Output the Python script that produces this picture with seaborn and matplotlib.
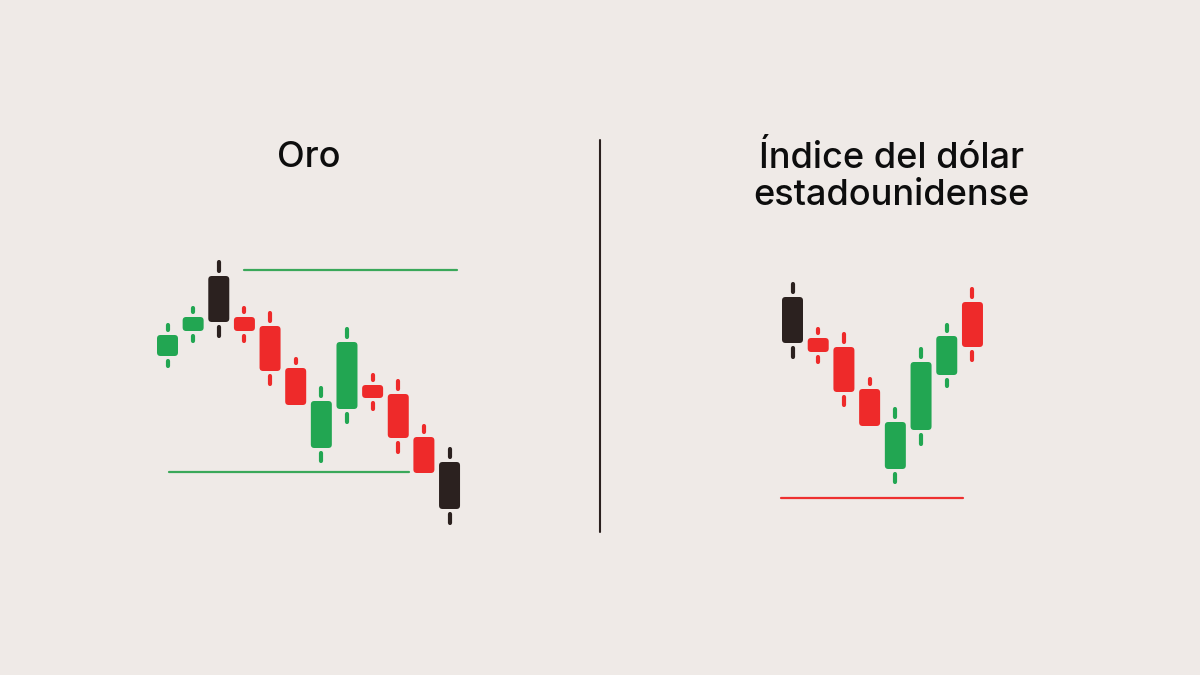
import matplotlib
matplotlib.use("Agg")
import matplotlib.pyplot as plt
from matplotlib.patches import FancyBboxPatch
from matplotlib.lines import Line2D
import seaborn as sns

# candles (arbitrary price units)
gold_open = [102, 114.5, 119, 121.5, 117, 96, 56, 75.5, 87.5, 83, 61.5, 49]
gold_close = [112.5, 121.5, 142, 114.5, 94.5, 77.5, 79.5, 109, 81, 61, 43.5, 25.5]
gold_high = [118.5, 127, 150, 127, 124.5, 101.5, 87, 116.5, 93.5, 90.5, 68, 56.5]
gold_low = [96, 108.5, 111, 108.5, 87, 77.5, 48.5, 68, 74.5, 53, 43.5, 17.5]
gold_kind = ["up", "up", "dark", "down", "down", "down", "up", "up", "down", "down", "down", "dark"]
gold_resistance = 145
gold_resistance_span = [2.98, 11.29]
gold_support = 44
gold_support_span = [0.06, 9.42]

dxy_open = [131.5, 111, 106.5, 85.5, 45.5, 65, 92.5, 129]
dxy_close = [108.5, 104, 84, 67, 69, 99, 112, 106.5]
dxy_high = [139, 116.5, 114, 91.5, 76.5, 106.5, 118.5, 136.5]
dxy_low = [100.5, 98, 76.5, 67, 38, 57, 86, 99]
dxy_kind = ["dark", "down", "down", "down", "up", "up", "up", "down"]
dxy_support = 31
dxy_support_span = [-0.45, 6.63]

titles = ["Oro", "Índice del dólar", "estadounidense"]

BG = "#efeae7"
colors = {"up": "#22a652", "down": "#ee2a2a", "dark": "#2b211f"}
W, H = 1200, 675

sns.set_theme(style="white", rc={"figure.facecolor": BG, "axes.facecolor": BG})
plt.rcParams["font.family"] = ["Inter", "DejaVu Sans"]

fig = plt.figure(figsize=(12, 6.75), dpi=100)

PX_Y = 2.0  # pixels per price unit


def panel(x0, step, xlim):
    left = x0 + xlim[0] * step
    width = (xlim[1] - xlim[0]) * step
    ax = fig.add_axes([left / W, (H - 560) / H, width / W, 320 / H])
    ax.set_xlim(*xlim)
    ax.set_ylim(0, 160)
    ax.axis("off")
    return ax, step


def candles(ax, step, o, c, h, l, kind):
    bw = 21 / step
    rad = 3.5 / step
    asp = step / PX_Y
    gap = 3 / PX_Y
    cap = 2 / PX_Y
    for i in range(len(o)):
        col = colors[kind[i]]
        top, bot = max(o[i], c[i]), min(o[i], c[i])
        ax.add_patch(FancyBboxPatch((i - bw / 2, bot), bw, top - bot,
                                    boxstyle=f"round,pad=0,rounding_size={rad}",
                                    mutation_aspect=asp, fc=col, ec="none"))
        segs = []
        if h[i] > top + 0.5:
            segs.append((top + gap + cap, h[i] - cap))
        if l[i] < bot - 0.5:
            segs.append((l[i] + cap, bot - gap - cap))
        for a, b in segs:
            ax.plot([i, i], [a, b], color=col, lw=3.0, solid_capstyle="round")


ax1, s1 = panel(167.5, 25.64, (-1, 12.5))
candles(ax1, s1, gold_open, gold_close, gold_high, gold_low, gold_kind)
sns.lineplot(x=gold_resistance_span, y=[gold_resistance] * 2, ax=ax1,
             color="#3aa85a", linewidth=1.6)
sns.lineplot(x=gold_support_span, y=[gold_support] * 2, ax=ax1,
             color="#3aa85a", linewidth=1.6)

ax2, s2 = panel(792.5, 25.71, (-1, 8))
candles(ax2, s2, dxy_open, dxy_close, dxy_high, dxy_low, dxy_kind)
sns.lineplot(x=dxy_support_span, y=[dxy_support] * 2, ax=ax2,
             color="#ee3030", linewidth=1.6)

# divider
fig.add_artist(Line2D([0.5, 0.5], [1 - 140 / H, 1 - 532 / H],
                      color="#2b211f", lw=1.5, transform=fig.transFigure))

title_kw = dict(ha="center", va="baseline", fontsize=26, fontweight="medium",
                color="#0d0d0d")
fig.text(309 / W, 1 - 167 / H, titles[0], **title_kw)
fig.text(891 / W, 1 - 168 / H, titles[1], **title_kw)
fig.text(891 / W, 1 - 205 / H, titles[2], **title_kw)

fig.savefig("out.png", dpi=100, facecolor=BG)
